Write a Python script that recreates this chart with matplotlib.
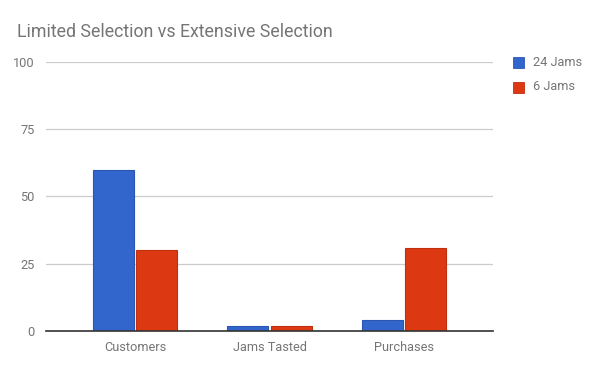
import numpy as np
import matplotlib
matplotlib.use("Agg")
import matplotlib.pyplot as plt
from matplotlib.patches import Rectangle

categories = ["Customers", "Jams Tasted", "Purchases"]
series_names = ["24 Jams", "6 Jams"]
jams_24 = [60, 2, 4]
jams_6 = [30, 2, 31]
y_ticks = [0, 25, 50, 75, 100]

colors = ["#3366cc", "#dc3912"]
edges = ["#2a56b0", "#c0300f"]
text_gray = "#757575"

plt.rcParams["font.family"] = ["Roboto", "DejaVu Sans"]

fig = plt.figure(figsize=(6, 3.71), dpi=100)
ax = fig.add_axes([0.0767, 0.1078, 0.745, 0.7252])

x = np.arange(len(categories))
w = 0.305
gap = 0.008
ax.bar(x - w / 2 - gap, jams_24, w, color=colors[0], edgecolor=edges[0], linewidth=0.8, zorder=3)
ax.bar(x + w / 2 + gap, jams_6, w, color=colors[1], edgecolor=edges[1], linewidth=0.8, zorder=3)

ax.set_xlim(-0.66, 2.66)
ax.set_ylim(0, 100)
ax.set_yticks(y_ticks)
ax.set_xticks(x)
ax.set_xticklabels(categories)
ax.tick_params(axis="both", length=0, labelsize=9.2, labelcolor=text_gray)
ax.tick_params(axis="x", pad=7)
ax.tick_params(axis="y", pad=8)
ax.grid(axis="y", color="#cccccc", linewidth=0.9, zorder=0)
for s in ["top", "right", "left"]:
    ax.spines[s].set_visible(False)
ax.spines["bottom"].set_color("#333333")
ax.spines["bottom"].set_linewidth(1.2)
ax.spines["bottom"].set_zorder(4)

fig.text(17 / 600, 1 - 32 / 371, "Limited Selection vs Extensive Selection",
         fontsize=12.8, color=text_gray, va="center", ha="left")

# legend
for i, name in enumerate(series_names):
    yc = 1 - (62 + 25 * i) / 371
    fig.patches.append(Rectangle((513 / 600, yc - 5.5 / 371), 11 / 600, 11 / 371,
                                 transform=fig.transFigure, facecolor=colors[i],
                                 edgecolor=edges[i], linewidth=0.6))
    fig.text(533 / 600, yc, name, fontsize=9.2, color=text_gray, va="center", ha="left")

fig.savefig("out.png", dpi=100)
